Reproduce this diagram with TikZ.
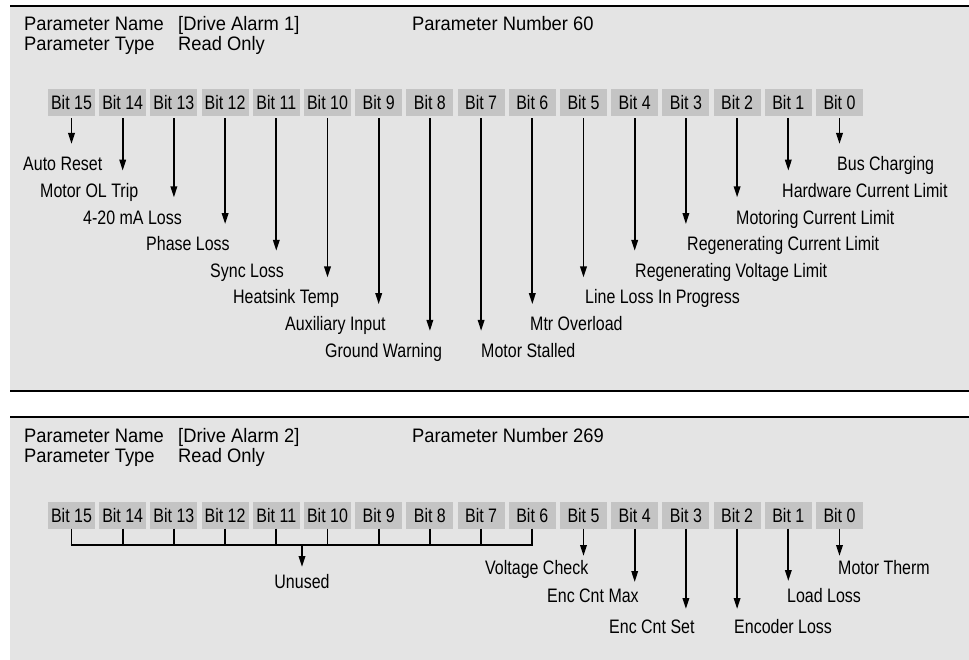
\documentclass[tikz,border=0pt]{standalone}
\usepackage{fontspec}
\setmainfont{Liberation Sans}[FakeStretch=0.94]
\newfontfamily\narrowfont{Liberation Sans}[FakeStretch=0.82]
\usetikzlibrary{arrows.meta}
\definecolor{panelgray}{HTML}{E4E4E4}
\definecolor{bitgray}{HTML}{C4C4C4}
\begin{document}
\begin{tikzpicture}[x=1pt,y=-1pt,
  hdr/.style={anchor=base west,inner sep=0pt,font=\fontsize{19.5}{21}\selectfont},
  bitbox/.style={fill=bitgray,minimum width=47pt,minimum height=27pt,inner sep=0pt,
    text height=14pt,text depth=0pt,font=\narrowfont\fontsize{19.5}{21}\selectfont},
  lbl/.style={anchor=base west,inner sep=0pt,font=\narrowfont\fontsize{19.5}{21}\selectfont},
  bitarrow/.style={line width=1.8pt,-{Triangle[width=6.5pt,length=11pt]}},
  tick/.style={line width=1.8pt},
  busline/.style={line width=2.4pt},
  rule/.style={line width=1.3pt}]
\useasboundingbox (0,0) rectangle (969,660);
% panels
\fill[panelgray] (10,6) rectangle (969,391);
\draw[rule] (10,6) -- (969,6);
\draw[rule] (10,391) -- (969,391);
\fill[panelgray] (10,417) rectangle (969,660);
\draw[rule] (10,417) -- (969,417);

% ---------- top panel ----------
\node[hdr] (h1n) at (24,30.5) {Parameter Name};
\node[hdr] (h1v) at (178,30.5) {[Drive Alarm 1]};
\node[hdr] (h1p) at (412,30.5) {Parameter Number 60};
\node[hdr] (h1t) at (24,50.5) {Parameter Type};
\node[hdr] (h1r) at (178,50.5) {Read Only};

\foreach \i in {15,...,0}
  \node[bitbox] (a\i) at ({71.5+(15-\i)*51.2},102.5) {Bit \i};

\foreach \i/\k in {15/0,14/1,13/2,12/3,11/4,10/5,9/6,8/7,7/7,6/6,5/5,4/4,3/3,2/2,1/1,0/0}{
  \pgfmathsetmacro\ty{144+26.7*\k}
  \coordinate (ta\i) at (a\i.south |- 0,\ty);
  \draw[bitarrow,shorten <=2pt] (a\i.south) -- (ta\i);
}

\node[lbl] (la15) at (23,171) {Auto Reset};
\node[lbl] (la14) at (40,197.6) {Motor OL Trip};
\node[lbl] (la13) at (83,224.2) {4-20 mA Loss};
\node[lbl] (la12) at (146,250.8) {Phase Loss};
\node[lbl] (la11) at (210,277.4) {Sync Loss};
\node[lbl] (la10) at (233,304) {Heatsink Temp};
\node[lbl] (la9) at (285,330.6) {Auxiliary Input};
\node[lbl] (la8) at (325,357.2) {Ground Warning};
\node[lbl] (la7) at (481,357.2) {Motor Stalled};
\node[lbl] (la6) at (530,330.6) {Mtr Overload};
\node[lbl] (la5) at (585,304) {Line Loss In Progress};
\node[lbl] (la4) at (635,277.4) {Regenerating Voltage Limit};
\node[lbl] (la3) at (687,250.8) {Regenerating Current Limit};
\node[lbl] (la2) at (736,224.2) {Motoring Current Limit};
\node[lbl] (la1) at (782,197.6) {Hardware Current Limit};
\node[lbl] (la0) at (837,171) {Bus Charging};

% ---------- bottom panel ----------
\node[hdr] (h2n) at (24,442.5) {Parameter Name};
\node[hdr] (h2v) at (178,442.5) {[Drive Alarm 2]};
\node[hdr] (h2p) at (412,442.5) {Parameter Number 269};
\node[hdr] (h2t) at (24,462.5) {Parameter Type};
\node[hdr] (h2r) at (178,462.5) {Read Only};

\foreach \i in {15,...,0}
  \node[bitbox] (b\i) at ({71.5+(15-\i)*51.2},515) {Bit \i};

\coordinate (busL) at (b15.south |- 0,545);
\coordinate (busR) at (b6.south |- 0,545);
\foreach \i in {15,...,6}
  \draw[tick] (b\i.south) -- (b\i.south |- busL);
\draw[busline,line cap=butt] ([xshift=-0.9pt]busL) -- ([xshift=0.9pt]busR);
\coordinate (busM) at (302,545);
\coordinate (tU) at (302,567);
\draw[bitarrow] (busM) -- (tU);
\node[anchor=base,inner sep=0pt,font=\narrowfont\fontsize{19.5}{21}\selectfont] (lunused) at (302,588.5) {Unused};

\foreach \i/\ty in {5/556,4/582,3/609,2/609,1/581,0/556}{
  \coordinate (tb\i) at (b\i.south |- 0,\ty);
  \draw[bitarrow] (b\i.south) -- (tb\i);
}

\node[lbl] (lb5) at (485,574.5) {Voltage Check};
\node[lbl] (lb4) at (547,602) {Enc Cnt Max};
\node[lbl] (lb3) at (609,633.5) {Enc Cnt Set};
\node[lbl] (lb2) at (734,633.5) {Encoder Loss};
\node[lbl] (lb1) at (787,602) {Load Loss};
\node[lbl] (lb0) at (838,574.5) {Motor Therm};
\end{tikzpicture}
\end{document}
